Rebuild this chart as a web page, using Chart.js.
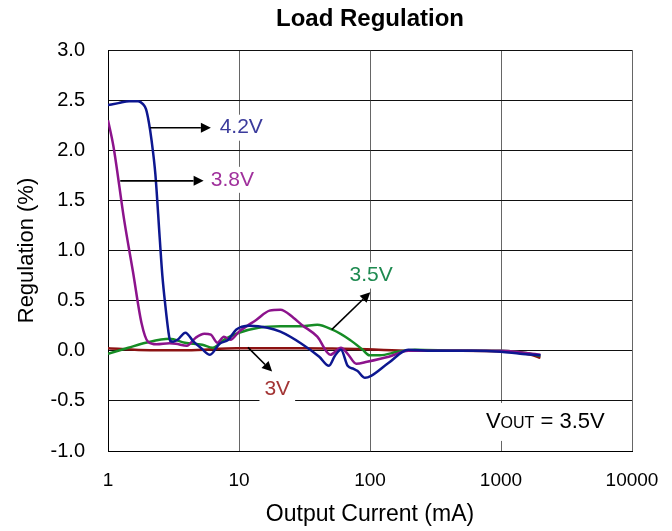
<!DOCTYPE html>
<html lang="en">
<head>
  <meta charset="UTF-8" />
  <title>Load Regulation</title>
  <script src="https://cdn.jsdelivr.net/npm/chart.js"></script>
  <style>
    html, body { margin: 0; padding: 0; background: #fff; }
    #wrap { width: 672px; height: 531px; }
  </style>
</head>
<body>
  <div id="wrap"><canvas id="grafico"></canvas></div>

  <script>
    // valores: corrente (mA) e regulação (%)
    var xTicks = [1, 10, 100, 1000, 10000];

    var current42 = [1, 1.2, 1.45, 1.7, 1.85, 1.95, 2.05, 2.15, 2.3, 2.48, 2.6, 2.74, 2.9, 2.98, 3.15, 3.4, 3.9, 4.5, 5.2, 6.0, 7.1, 8.3, 9.5, 12, 16.5, 20.7, 30, 41, 48.6, 54, 60, 67.5, 75, 80, 91.6, 102, 139, 196, 300, 600, 1000, 1400, 2000];
    var reg42 = [2.45, 2.47, 2.49, 2.49, 2.46, 2.41, 2.28, 2.1, 1.76, 1.13, 0.75, 0.45, 0.18, 0.1, 0.09, 0.11, 0.18, 0.09, 0.02, -0.04, 0.07, 0.11, 0.21, 0.25, 0.23, 0.19, 0.07, -0.06, -0.15, -0.05, 0.01, -0.15, -0.18, -0.2, -0.27, -0.25, -0.12, 0.01, 0.0, 0.0, -0.01, -0.03, -0.045];

    var current38 = [1, 1.1, 1.33, 1.55, 1.8, 2.02, 2.35, 2.95, 3.3, 4.0, 4.67, 5.44, 6.1, 6.84, 7.67, 8.6, 10, 13.6, 17.1, 20.7, 26, 30, 39.6, 49.7, 60, 67.5, 78.7, 95, 139, 196, 400, 1000, 1500, 2000];
    var reg38 = [2.3, 2.04, 1.3, 0.79, 0.28, 0.09, 0.065, 0.075, 0.07, 0.05, 0.13, 0.17, 0.16, 0.08, 0.14, 0.11, 0.19, 0.31, 0.4, 0.41, 0.33, 0.26, 0.14, -0.04, 0.03, -0.03, -0.13, -0.11, -0.06, 0.0, 0.0, 0.0, -0.02, -0.04];

    var current35 = [1, 1.43, 1.94, 2.95, 3.86, 5.24, 6.3, 7.67, 10, 14.1, 20.7, 30, 39.6, 51.7, 70, 88, 99, 119, 163, 220, 500, 1000, 1500, 2000];
    var reg35 = [-0.03, 0.03, 0.08, 0.12, 0.08, 0.06, 0.03, 0.11, 0.18, 0.23, 0.245, 0.245, 0.26, 0.21, 0.11, 0.01, -0.045, -0.045, -0.01, 0.01, 0.0, 0.0, -0.02, -0.05];

    var current30 = [1, 2.1, 4, 9.6, 30, 60, 95, 200, 500, 1200, 1700, 2000];
    var reg30 = [0.025, 0.005, 0.005, 0.025, 0.025, 0.02, 0.015, 0.0, 0.0, -0.01, -0.04, -0.07];

    // rótulos com setas
    var rotulos = ['4.2V', '3.8V', '3.5V', '3V'];
    var rotuloCor = ['#3b3b9c', '#a0309c', '#1e8a50', '#a33535'];
    var rotuloX = [10.4, 8.9, 102, 19.6];
    var rotuloY = [2.225, 1.705, 0.75, -0.38];
    var setaX1 = [2.10, 1.24, 51, 11.7];
    var setaY1 = [2.225, 1.695, 0.21, 0.033];
    var setaX2 = [6.10, 5.37, 100.5, 17.9];
    var setaY2 = [2.225, 1.695, 0.583, -0.207];

    function pontos(xs, ys) {
      var out = [];
      for (var i = 0; i < xs.length; i++) {
        out.push({ x: xs[i], y: ys[i] });
      }
      return out;
    }

    var fonte = "Arial, 'Liberation Sans', sans-serif";

    function seta(ctx, x1, y1, x2, y2) {
      var ang = Math.atan2(y2 - y1, x2 - x1);
      var len = 10, half = 5;
      var bx = x2 - len * Math.cos(ang);
      var by = y2 - len * Math.sin(ang);
      ctx.strokeStyle = '#000';
      ctx.lineWidth = 1.6;
      ctx.beginPath();
      ctx.moveTo(x1, y1);
      ctx.lineTo(bx, by);
      ctx.stroke();
      ctx.fillStyle = '#000';
      ctx.beginPath();
      ctx.moveTo(x2, y2);
      ctx.lineTo(bx + half * Math.sin(ang), by - half * Math.cos(ang));
      ctx.lineTo(bx - half * Math.sin(ang), by + half * Math.cos(ang));
      ctx.closePath();
      ctx.fill();
    }

    var anotacoes = {
      id: 'anotacoes',
      beforeDatasetsDraw: function(chart) {
        var ctx = chart.ctx;
        var sx = chart.scales.x, sy = chart.scales.y;
        ctx.save();
        ctx.font = '21px ' + fonte;
        ctx.fillStyle = '#fff';
        for (var i = 0; i < rotulos.length; i++) {
          var w = ctx.measureText(rotulos[i]).width;
          var cx = sx.getPixelForValue(rotuloX[i]);
          var cy = sy.getPixelForValue(rotuloY[i]);
          ctx.fillRect(cx - w / 2 - 5, cy - 13, w + 10, 26);
        }
        // caixa do Vout
        var vx = sx.getPixelForValue(767);
        var vy = sy.getPixelForValue(-0.69);
        ctx.fillRect(vx - 5, vy - 17, 132, 38);
        ctx.restore();
      },
      afterDatasetsDraw: function(chart) {
        var ctx = chart.ctx;
        var sx = chart.scales.x, sy = chart.scales.y;
        ctx.save();
        for (var i = 0; i < rotulos.length; i++) {
          seta(ctx,
            sx.getPixelForValue(setaX1[i]), sy.getPixelForValue(setaY1[i]),
            sx.getPixelForValue(setaX2[i]), sy.getPixelForValue(setaY2[i]));
          ctx.font = '21px ' + fonte;
          ctx.fillStyle = rotuloCor[i];
          ctx.textAlign = 'center';
          ctx.textBaseline = 'middle';
          ctx.fillText(rotulos[i], sx.getPixelForValue(rotuloX[i]), sy.getPixelForValue(rotuloY[i]));
        }
        // VOUT = 3.5V
        var x = sx.getPixelForValue(767);
        var y = sy.getPixelForValue(-0.69);
        ctx.fillStyle = '#000';
        ctx.textAlign = 'left';
        ctx.textBaseline = 'alphabetic';
        ctx.font = '22px ' + fonte;
        ctx.fillText('V', x, y + 8);
        x += ctx.measureText('V').width;
        ctx.font = '16px ' + fonte;
        ctx.fillText('OUT', x, y + 8);
        x += ctx.measureText('OUT').width;
        ctx.font = '22px ' + fonte;
        ctx.fillText(' = 3.5V', x, y + 8);
        ctx.restore();
      }
    };

    new Chart(document.getElementById('grafico'), {
      type: 'line',
      data: {
        datasets: [
          { label: '4.2V', data: pontos(current42, reg42), borderColor: '#0d1790' },
          { label: '3.8V', data: pontos(current38, reg38), borderColor: '#8c138c' },
          { label: '3.5V', data: pontos(current35, reg35), borderColor: '#168c25' },
          { label: '3V', data: pontos(current30, reg30), borderColor: '#8c1212' }
        ]
      },
      options: {
        responsive: true,
        maintainAspectRatio: false,
        animation: false,
        elements: {
          line: { borderWidth: 2.5, cubicInterpolationMode: 'monotone', fill: false },
          point: { radius: 0 }
        },
        layout: { padding: { left: 0, right: 40, top: 0, bottom: 0 } },
        plugins: {
          legend: { display: false },
          tooltip: { enabled: false },
          title: {
            display: true,
            fullSize: false,
            text: 'Load Regulation',
            color: '#000',
            font: { family: fonte, size: 24, weight: 'bold' },
            padding: { top: 5, bottom: 16.2 }
          }
        },
        scales: {
          x: {
            type: 'logarithmic',
            min: 1,
            max: 10000,
            afterBuildTicks: function(scale) {
              scale.ticks = xTicks.map(function(v) { return { value: v }; });
            },
            afterFit: function(scale) {
              scale.height = 80;
              scale.paddingLeft = 0;
              scale.paddingRight = 20;
            },
            ticks: {
              color: '#000',
              font: { family: fonte, size: 19 },
              padding: 18,
              maxRotation: 0,
              autoSkip: false,
              callback: function(v) { return String(v); }
            },
            grid: { color: '#666', drawTicks: false },
            border: { color: '#000' },
            title: {
              display: true,
              text: 'Output Current (mA)',
              color: '#000',
              font: { family: fonte, size: 23 },
              padding: { top: 0, bottom: 3 }
            }
          },
          y: {
            min: -1,
            max: 3,
            afterFit: function(scale) { scale.width = 108; },
            ticks: {
              stepSize: 0.5,
              color: '#000',
              font: { family: fonte, size: 20 },
              padding: 23,
              callback: function(v) { return v.toFixed(1); }
            },
            grid: { color: '#111', drawTicks: false },
            border: { color: '#000' },
            title: {
              display: true,
              text: 'Regulation (%)',
              color: '#000',
              font: { family: fonte, size: 22 },
              padding: { top: 14, bottom: 0 }
            }
          }
        }
      },
      plugins: [anotacoes]
    });
  </script>
</body>
</html>
